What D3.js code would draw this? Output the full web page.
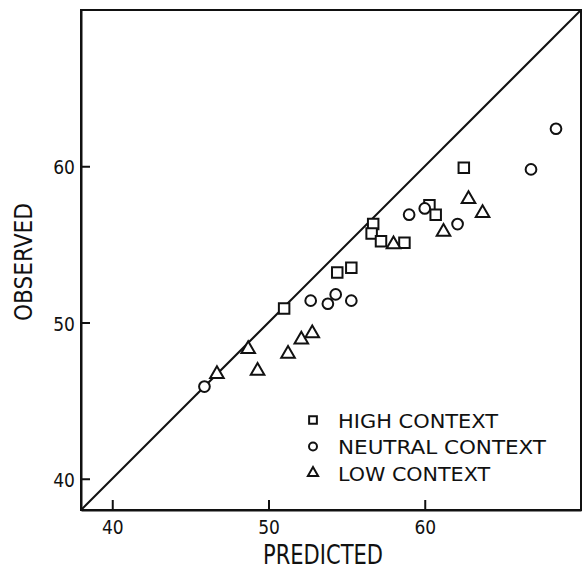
<!DOCTYPE html>
<html lang="en">
<head>
  <meta charset="UTF-8">
  <title>Observed vs predicted</title>
  <script src="https://d3js.org/d3.v7.min.js"></script>
  <style>
    body { margin: 0; background: #fff; }
    text { font-family: "Liberation Sans Narrow", "DejaVu Sans Condensed", "Arial Narrow", sans-serif; fill: #111; }
  </style>
</head>
<body>
  <script>
    // data (predicted, observed)
    var highX = [51.0, 54.4, 55.3, 56.7, 56.6, 57.2, 58.7, 60.3, 60.7, 62.5];
    var highY = [50.9, 53.2, 53.5, 56.3, 55.7, 55.2, 55.1, 57.5, 56.9, 59.9];
    var neutralX = [45.9, 52.7, 53.8, 54.3, 55.3, 59.0, 60.0, 62.1, 66.8, 68.4];
    var neutralY = [45.9, 51.4, 51.2, 51.8, 51.4, 56.9, 57.3, 56.3, 59.8, 62.4];
    var lowX = [46.7, 48.7, 49.3, 51.25, 52.1, 52.8, 58.0, 61.2, 62.8, 63.7];
    var lowY = [46.7, 48.3, 46.9, 48.0, 48.9, 49.3, 55.0, 55.8, 57.9, 57.0];
    var ticks = [40, 50, 60];
    var labels = ["HIGH CONTEXT", "NEUTRAL CONTEXT", "LOW CONTEXT"];

    var w = 585, h = 574;
    var mLeft = 81, mTop = 10, size = 500;

    var svg = d3.select("body").append("svg")
      .attr("width", w)
      .attr("height", h);

    var x = d3.scaleLinear().domain([38, 70]).range([mLeft, mLeft + size]);
    var y = d3.scaleLinear().domain([38, 70]).range([mTop + size, mTop]);

    // frame
    svg.append("rect")
      .attr("x", mLeft).attr("y", mTop)
      .attr("width", size).attr("height", size)
      .attr("fill", "none")
      .attr("stroke", "#111")
      .attr("stroke-width", 2);

    // axes, ticks pointing inward
    var xAxis = d3.axisBottom(x).tickValues(ticks).tickSize(-10).tickSizeOuter(0).tickPadding(11);
    var gx = svg.append("g")
      .attr("transform", "translate(0," + (mTop + size) + ")")
      .call(xAxis);
    var yAxis = d3.axisLeft(y).tickValues(ticks).tickSize(-9).tickSizeOuter(0).tickPadding(6);
    var gy = svg.append("g")
      .attr("transform", "translate(" + mLeft + ",0)")
      .call(yAxis);
    [gx, gy].forEach(function(g) {
      g.attr("font-size", null).attr("font-family", null);
      g.selectAll("path, line").attr("stroke", "#111").attr("stroke-width", 2);
      g.selectAll("text").style("font-size", "19px").attr("fill", "#111");
    });
    gy.selectAll("text").attr("dy", "0.4em");

    // identity line
    svg.append("line")
      .attr("x1", x(38)).attr("y1", y(38))
      .attr("x2", x(70)).attr("y2", y(70))
      .attr("stroke", "#111")
      .attr("stroke-width", 2);

    function pts(xs, ys) {
      return xs.map(function(d, i) { return [d, ys[i]]; });
    }

    var series = [
      { data: pts(highX, highY), type: d3.symbolSquare, size: 110 },
      { data: pts(neutralX, neutralY), type: d3.symbolCircle, size: 90 },
      { data: pts(lowX, lowY), type: d3.symbolTriangle, size: 80 }
    ];

    series.forEach(function(s) {
      svg.append("g").selectAll("path")
        .data(s.data)
        .enter()
        .append("path")
        .attr("transform", function(d) { return "translate(" + x(d[0]) + "," + y(d[1]) + ")"; })
        .attr("d", d3.symbol().type(s.type).size(s.size))
        .attr("fill", "#fff")
        .attr("stroke", "#111")
        .attr("stroke-width", 2);
    });

    // legend
    var legendSymbols = [d3.symbolSquare, d3.symbolCircle, d3.symbolTriangle];
    var legendWidths = [160, 208, 152];
    var legend = svg.append("g");
    labels.forEach(function(t, i) {
      var cy = 420 + i * 26.5;
      legend.append("path")
        .attr("transform", "translate(313," + cy + ")")
        .attr("d", d3.symbol().type(legendSymbols[i]).size([60, 50, 45][i]))
        .attr("fill", "none")
        .attr("stroke", "#111")
        .attr("stroke-width", 2);
      legend.append("text")
        .attr("x", 338)
        .attr("y", cy + 7.5)
        .attr("font-size", 20)
        .attr("textLength", legendWidths[i])
        .attr("lengthAdjust", "spacingAndGlyphs")
        .text(t);
    });

    // axis titles
    svg.append("text")
      .attr("x", 323).attr("y", 564)
      .attr("text-anchor", "middle")
      .attr("font-size", 26)
      .attr("textLength", 120)
      .attr("lengthAdjust", "spacingAndGlyphs")
      .text("PREDICTED");

    svg.append("text")
      .attr("transform", "translate(32,262) rotate(-90)")
      .attr("text-anchor", "middle")
      .attr("font-size", 24)
      .attr("textLength", 118)
      .attr("lengthAdjust", "spacingAndGlyphs")
      .text("OBSERVED");
  </script>
</body>
</html>
